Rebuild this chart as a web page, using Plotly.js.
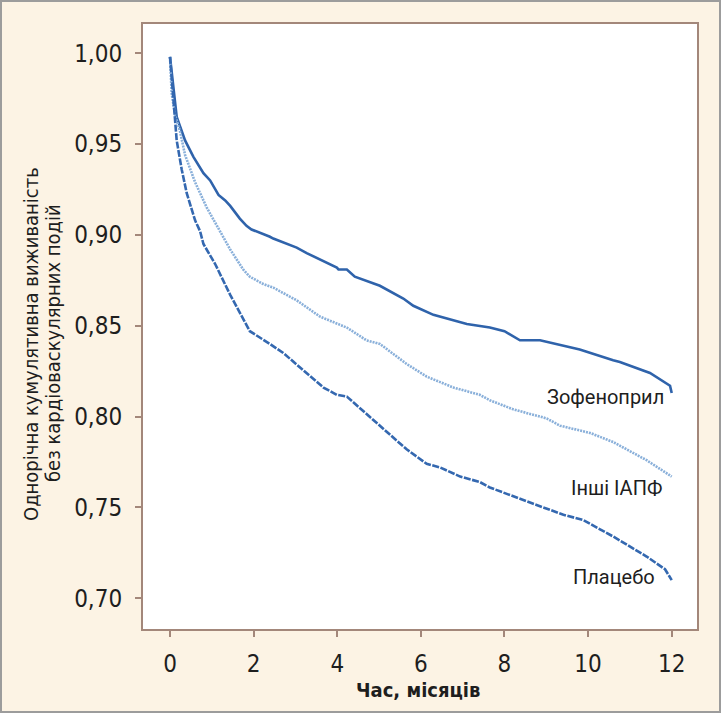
<!DOCTYPE html>
<html>
<head>
<meta charset="utf-8">
<script src="https://cdn.plot.ly/plotly-3.0.1.min.js"></script>
<style>
  html, body { margin: 0; padding: 0; background: #fcf3e4; }
  #wrap { position: relative; width: 721px; height: 713px; }
  #chart { width: 721px; height: 713px; }
  #frame { position: absolute; left: 0; top: 0; width: 721px; height: 713px; box-sizing: border-box; border: 2px solid #9c9c9c; pointer-events: none; }
</style>
</head>
<body>
<div id="wrap"><div id="chart"></div><div id="frame"></div></div>
<script>
// ---- data ----
const seriesNames = ["Зофеноприл", "Інші ІАПФ", "Плацебо"];

const zofT = [0, 0.08, 0.16, 0.36, 0.56, 0.80, 0.96, 1.16, 1.32, 1.44, 1.67, 1.83, 1.95, 2.39, 2.47, 3.03, 3.27, 3.99, 4.03, 4.23, 4.42, 5.02, 5.58, 5.82, 6.30, 7.10, 7.65, 8.00, 8.37, 8.85, 9.80, 10.60, 10.76, 11.48, 11.96, 12.00];
const zofS = [0.998, 0.980, 0.965, 0.952, 0.943, 0.934, 0.930, 0.922, 0.919, 0.916, 0.909, 0.905, 0.903, 0.899, 0.898, 0.893, 0.890, 0.882, 0.881, 0.881, 0.877, 0.872, 0.865, 0.861, 0.856, 0.851, 0.849, 0.847, 0.842, 0.842, 0.837, 0.831, 0.830, 0.824, 0.817, 0.813];

const aceT = [0, 0.04, 0.12, 0.24, 0.36, 0.60, 0.88, 1.12, 1.36, 1.44, 1.75, 1.91, 2.23, 2.47, 3.03, 3.59, 4.23, 4.70, 5.02, 5.66, 6.14, 6.78, 7.41, 7.65, 8.21, 9.01, 9.33, 10.05, 10.60, 11.40, 12.00];
const aceS = [0.998, 0.978, 0.966, 0.957, 0.944, 0.929, 0.915, 0.905, 0.895, 0.892, 0.881, 0.877, 0.873, 0.871, 0.864, 0.855, 0.849, 0.842, 0.840, 0.829, 0.822, 0.816, 0.812, 0.809, 0.804, 0.799, 0.795, 0.791, 0.786, 0.776, 0.767];

const plaT = [0, 0.08, 0.16, 0.28, 0.40, 0.60, 0.72, 0.80, 1.08, 1.44, 1.83, 1.91, 2.39, 2.71, 3.67, 3.99, 4.23, 5.02, 5.66, 6.14, 6.46, 6.94, 7.41, 7.65, 8.21, 8.69, 9.41, 9.89, 10.60, 11.40, 11.84, 12.00];
const plaS = [0.998, 0.975, 0.952, 0.936, 0.923, 0.908, 0.902, 0.895, 0.884, 0.867, 0.850, 0.847, 0.840, 0.835, 0.816, 0.812, 0.811, 0.795, 0.782, 0.774, 0.772, 0.767, 0.764, 0.761, 0.756, 0.752, 0.746, 0.743, 0.734, 0.723, 0.716, 0.710];

const yTickVals = [0.70, 0.75, 0.80, 0.85, 0.90, 0.95, 1.00];
const yTickText = ["0,70", "0,75", "0,80", "0,85", "0,90", "0,95", "1,00"];
const xTickVals = [0, 2, 4, 6, 8, 10, 12];
const xTickText = ["0", "2", "4", "6", "8", "10", "12"];

const xTitle = "Час, місяців";
const yTitle1 = "Однорічна кумулятивна виживаність";
const yTitle2 = "без кардіоваскулярних подій";

// ---- layout geometry (pixels) ----
const W = 721, H = 713;
const L = 143, R = 697, T = 24, B = 629;
const px = x => (x - L) / (R - L);
const py = y => (B - y) / (B - T);

const narrow = "Liberation Sans Narrow, DejaVu Sans Condensed, Arial Narrow, sans-serif";
const axisCol = "#a3877a";

const traces = [
  { x: zofT, y: zofS, name: seriesNames[0], mode: "lines",
    line: { color: "#2f63ab", width: 2.6, shape: "linear" } },
  { x: aceT, y: aceS, name: seriesNames[1], mode: "lines",
    line: { color: "#8ab0da", width: 2.6, dash: "2px,1px" } },
  { x: plaT, y: plaS, name: seriesNames[2], mode: "lines",
    line: { color: "#3468b0", width: 2.6, dash: "7px,1.5px" } }
];

const layout = {
  width: W, height: H,
  margin: { l: L, r: W - R, t: T, b: H - B, pad: 0 },
  paper_bgcolor: "#fcf3e4",
  plot_bgcolor: "#ffffff",
  showlegend: false,
  xaxis: {
    range: [-0.646, 12.605],
    tickvals: xTickVals, ticktext: xTickText,
    ticks: "outside", ticklen: 6, tickwidth: 2, tickcolor: axisCol,
    showline: true, linecolor: axisCol, linewidth: 2, mirror: true,
    showgrid: false, zeroline: false,
    tickfont: { family: narrow, size: 24, color: "#1e1e1e" },
    ticklabelstandoff: 6
  },
  yaxis: {
    range: [0.6831, 1.0161],
    tickvals: yTickVals, ticktext: yTickText,
    ticks: "outside", ticklen: 6, tickwidth: 2, tickcolor: axisCol,
    showline: true, linecolor: axisCol, linewidth: 2, mirror: true,
    showgrid: false, zeroline: false,
    tickfont: { family: narrow, size: 24, color: "#1e1e1e" },
    ticklabelstandoff: 8
  },
  annotations: [
    { text: xTitle, xref: "paper", yref: "paper", x: px(418), y: py(690),
      xanchor: "center", yanchor: "middle", showarrow: false,
      font: { family: narrow, size: 20, color: "#1e1e1e", weight: "bold" } },
    { text: yTitle1, xref: "paper", yref: "paper", x: px(31), y: py(344),
      xanchor: "center", yanchor: "middle", showarrow: false, textangle: -90,
      font: { family: narrow, size: 20, color: "#1e1e1e" } },
    { text: yTitle2, xref: "paper", yref: "paper", x: px(53), y: py(343),
      xanchor: "center", yanchor: "middle", showarrow: false, textangle: -90,
      font: { family: narrow, size: 20, color: "#1e1e1e" } },
    { text: seriesNames[0], xref: "paper", yref: "paper", x: px(666), y: py(397),
      xanchor: "right", yanchor: "middle", showarrow: false,
      font: { family: "Roboto, sans-serif", size: 20, color: "#1e1e1e" } },
    { text: seriesNames[1], xref: "paper", yref: "paper", x: px(664), y: py(488),
      xanchor: "right", yanchor: "middle", showarrow: false,
      font: { family: "Roboto, sans-serif", size: 20, color: "#1e1e1e" } },
    { text: seriesNames[2], xref: "paper", yref: "paper", x: px(657), y: py(577),
      xanchor: "right", yanchor: "middle", showarrow: false,
      font: { family: "Roboto, sans-serif", size: 20, color: "#1e1e1e" } }
  ]
};

Plotly.newPlot("chart", traces, layout, { staticPlot: true, displayModeBar: false });
</script>
</body>
</html>
